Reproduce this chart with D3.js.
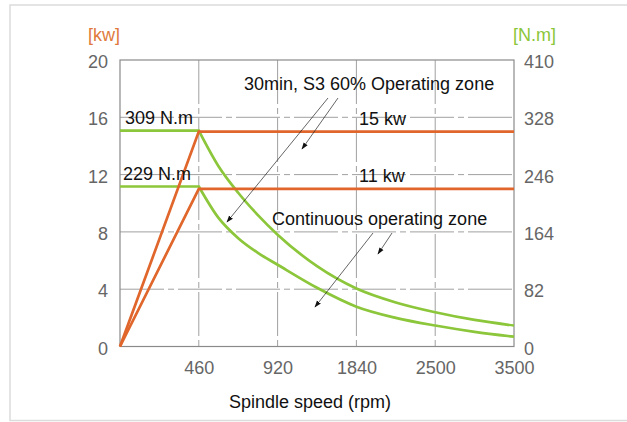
<!DOCTYPE html>
<html>
<head>
<meta charset="utf-8">
<script src="https://cdn.jsdelivr.net/npm/d3@7"></script>
<style>
  body { margin: 0; background: #fff; }
  text { font-family: "Liberation Sans", Arial, sans-serif; }
</style>
</head>
<body>
<div class="canvas"></div>
<script>
// data
const speedTicks = [0, 460, 920, 1840, 2500, 3500];
const kwTicks = [0, 4, 8, 12, 16, 20];
const nmTicks = [0, 82, 164, 246, 328, 410];

const powerSpeed = [0, 460, 3500];
const powerS3 = [0, 15, 15];      // kw
const powerCont = [0, 11, 11];    // kw

// constant torque part, then the falling part above base speed
const flatSpeed = [0, 460];
const flatS3 = [309, 309];
const flatCont = [229, 229];

const torqueSpeed = [460, 575, 690, 805, 920, 1380, 1840, 2170, 2500, 3000, 3500];
const torqueS3 = [309, 258, 220, 188, 160, 115, 83, 63, 49, 38, 30];    // N.m
const torqueCont = [229, 184, 155, 134, 117, 84, 57, 41, 30, 21, 14];   // N.m

const orange = '#e0662c';
const green = '#8cc63a';

// svg
const svg = d3.select('.canvas')
    .append('svg')
    .attr('width', 627)
    .attr('height', 422);

// outer frame
svg.append('rect')
    .attr('x', 10).attr('y', 5)
    .attr('width', 640).attr('height', 415.5)
    .attr('fill', 'none')
    .attr('stroke', '#dcdcdc')
    .attr('stroke-width', 1.5);

const pLeft = 120, pRight = 514, pTop = 60, pBottom = 346.5;

// scales (x ticks are equally spaced, so a polylinear scale)
const step = (pRight - pLeft) / (speedTicks.length - 1);
const xScale = d3.scaleLinear()
    .domain(speedTicks)
    .range(speedTicks.map((d, i) => pLeft + i * step));

const yKw = d3.scaleLinear().domain([0, 20]).range([pBottom, pTop]);
const yNm = d3.scaleLinear().domain([0, 410]).range([pBottom, pTop]);

// grid
const grid = svg.append('g')
    .attr('stroke', '#a0a0a0')
    .attr('stroke-width', 1)
    .attr('stroke-dasharray', '44,4,6,4');

grid.selectAll('.hg')
    .data(kwTicks.slice(1, -1))
    .enter().append('line')
    .attr('x1', pLeft).attr('x2', pRight)
    .attr('y1', d => yKw(d)).attr('y2', d => yKw(d));

grid.selectAll('.vg')
    .data(speedTicks.slice(1, -1))
    .enter().append('line')
    .attr('y1', pTop).attr('y2', pBottom)
    .attr('x1', d => xScale(d)).attr('x2', d => xScale(d));

// plot frame
svg.append('rect')
    .attr('x', pLeft).attr('y', pTop)
    .attr('width', pRight - pLeft).attr('height', pBottom - pTop)
    .attr('fill', 'none')
    .attr('stroke', '#8a8a8a')
    .attr('stroke-width', 1.2);

// axes
const styleAxis = g => {
    g.select('.domain').remove();
    g.selectAll('line').remove();
    g.selectAll('text')
        .attr('font-size', 18)
        .attr('fill', '#666');
};

svg.append('g')
    .attr('transform', `translate(${pLeft},0)`)
    .call(d3.axisLeft(yKw).tickValues(kwTicks).tickFormat(d3.format('d')).tickSize(0).tickPadding(12))
    .call(styleAxis)
    .selectAll('text').attr('dy', '0.42em');

svg.append('g')
    .attr('transform', `translate(${pRight},0)`)
    .call(d3.axisRight(yNm).tickValues(nmTicks).tickFormat(d3.format('d')).tickSize(0).tickPadding(10))
    .call(styleAxis)
    .selectAll('text').attr('dy', '0.42em');

svg.append('g')
    .attr('transform', `translate(0,${pBottom})`)
    .call(d3.axisBottom(xScale).tickValues(speedTicks.slice(1)).tickFormat(d3.format('d')).tickSize(0).tickPadding(15))
    .call(styleAxis);

// axis titles
svg.append('text')
    .attr('x', 88).attr('y', 41)
    .attr('font-size', 18)
    .attr('fill', '#e07a3c')
    .text('[kw]');

svg.append('text')
    .attr('x', 513).attr('y', 41)
    .attr('font-size', 18)
    .attr('fill', green)
    .text('[N.m]');

svg.append('text')
    .attr('x', 310).attr('y', 408)
    .attr('text-anchor', 'middle')
    .attr('font-size', 18)
    .attr('fill', '#111')
    .text('Spindle speed (rpm)');

// lines
const kwLine = d3.line()
    .x((d, i) => xScale(powerSpeed[i]))
    .y(d => yKw(d));

const flatLine = d3.line()
    .x((d, i) => xScale(flatSpeed[i]))
    .y(d => yNm(d));

const nmLine = d3.line()
    .x((d, i) => xScale(torqueSpeed[i]))
    .y(d => yNm(d))
    .curve(d3.curveMonotoneX);

[[flatS3, torqueS3], [flatCont, torqueCont]].forEach(([f, s]) => {
    svg.append('path')
        .attr('d', flatLine(f) + nmLine(s).replace(/^M/, 'L'))
        .attr('fill', 'none')
        .attr('stroke', green)
        .attr('stroke-width', 2.7);
});

[powerS3, powerCont].forEach(s => {
    svg.append('path')
        .attr('d', kwLine(s))
        .attr('fill', 'none')
        .attr('stroke', orange)
        .attr('stroke-width', 2.7)
        .attr('stroke-linejoin', 'miter');
});

// labels
const labels = [
    { t: '309 N.m', x: 125, y: 124 },
    { t: '229 N.m', x: 123, y: 180 },
    { t: '15 kw', x: 359, y: 125 },
    { t: '11 kw', x: 359, y: 182 },
    { t: '30min, S3 60% Operating zone', x: 244, y: 90 },
    { t: 'Continuous operating zone', x: 272, y: 225 }
];

svg.selectAll('.lbl')
    .data(labels)
    .enter().append('text')
    .attr('x', d => d.x).attr('y', d => d.y)
    .attr('font-size', 18)
    .attr('fill', '#111')
    .text(d => d.t);

// leader arrows
svg.append('defs').append('marker')
    .attr('id', 'arr')
    .attr('viewBox', '0 0 10 10')
    .attr('refX', 9).attr('refY', 5)
    .attr('markerWidth', 7).attr('markerHeight', 7)
    .attr('markerUnits', 'userSpaceOnUse')
    .attr('orient', 'auto')
    .append('path')
    .attr('d', 'M0,1.5 L10,5 L0,8.5 Z')
    .attr('fill', '#111');

const leaders = [
    [328, 98, 227, 222],
    [338, 98, 302, 149],
    [373, 233, 315, 307],
    [392, 233, 378, 254]
];

svg.selectAll('.ldr')
    .data(leaders)
    .enter().append('line')
    .attr('x1', d => d[0]).attr('y1', d => d[1])
    .attr('x2', d => d[2]).attr('y2', d => d[3])
    .attr('stroke', '#222')
    .attr('stroke-width', 0.7)
    .attr('marker-end', 'url(#arr)');
</script>
</body>
</html>
